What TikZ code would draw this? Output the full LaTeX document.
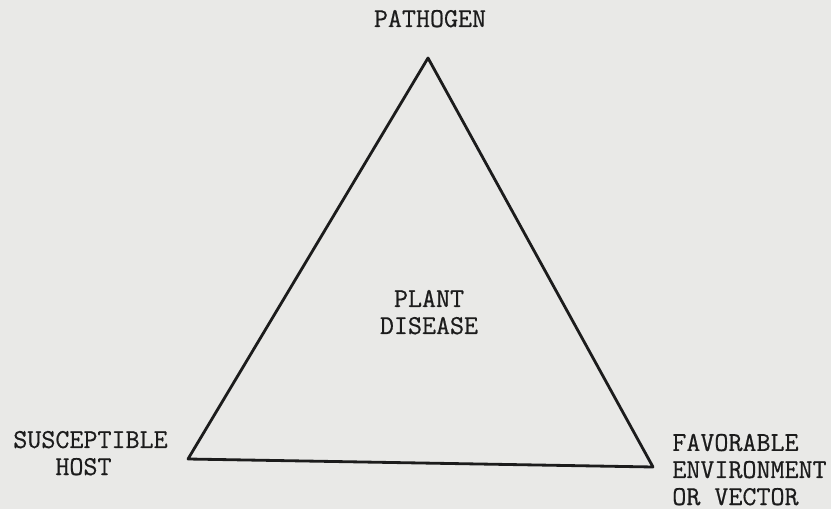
\documentclass[tikz,border=0pt]{standalone}
\usepackage{fontspec}
\usepackage{tikz}
\usetikzlibrary{positioning}
\newfontfamily\typewr[FakeBold=0.6]{Latin Modern Mono}
\definecolor{cPaper}{RGB}{233,233,231}
\definecolor{cInk}{RGB}{28,28,28}
\tikzset{
  lbl/.style={inner sep=0pt,text=cInk,font=\typewr\fontsize{15.5}{15.4}\selectfont},
  edge/.style={draw=cInk,line width=1.6pt,line join=round}
}
\begin{document}
\begin{tikzpicture}[x=0.02cm,y=-0.02cm]
  \fill[cPaper] (0,0) rectangle (831,509);
  \useasboundingbox (0,0) rectangle (831,509);

  % corners of the triangle
  \coordinate (top) at (428,58);
  \coordinate (host) at (188,459);
  \coordinate (env) at (653,467);

  \draw[edge] (top) -- (host) -- (env) -- cycle;

  \node[lbl,anchor=base] (path) at (430,27) {PATHOGEN};
  \node[lbl,anchor=base,align=center] (dis) at (429,334) {PLANT\\DISEASE};
  \node[lbl,anchor=base west,align=left] (susc) at (13,475)
      {SUSCEPTIBLE\\\hphantom{SUS}HOST};
  \node[lbl,anchor=base west,align=left] (fav) at (672,505)
      {FAVORABLE\\ENVIRONMENT\\OR VECTOR};
\end{tikzpicture}
\end{document}
